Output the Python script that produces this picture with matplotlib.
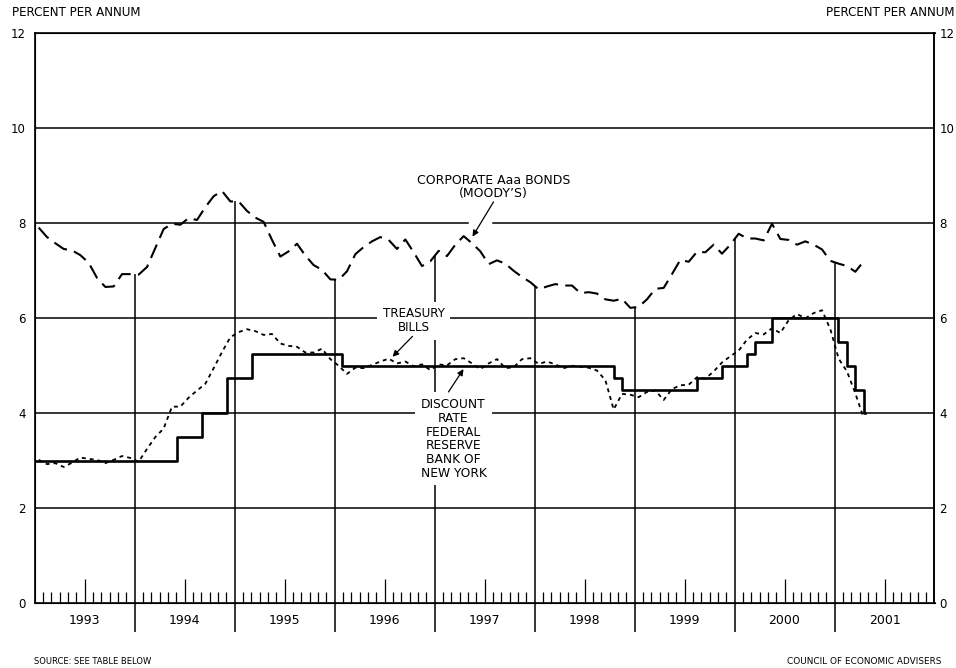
"""Interest rates 1993-2001: corporate Aaa bonds, treasury bills and
the discount rate of the Federal Reserve Bank of New York.
"""

import numpy as np
import matplotlib

matplotlib.use("Agg")
import matplotlib.pyplot as plt

# monthly values, Jan 1993 .. Apr 2001 (plotted at mid-month)
bond_rate = [
    7.91, 7.71, 7.58, 7.46, 7.43, 7.33, 7.17, 6.85, 6.66, 6.67, 6.93, 6.93,
    6.92, 7.08, 7.48, 7.88, 7.99, 7.97, 8.11, 8.07, 8.34, 8.57, 8.68, 8.46,
    8.46, 8.26, 8.12, 8.03, 7.65, 7.30, 7.41, 7.57, 7.32, 7.12, 7.02, 6.82,
    6.81, 6.99, 7.35, 7.50, 7.62, 7.71, 7.65, 7.46, 7.66, 7.39, 7.10, 7.20,
    7.42, 7.31, 7.55, 7.73, 7.58, 7.41, 7.14, 7.22, 7.15, 7.00, 6.87, 6.76,
    6.61, 6.67, 6.72, 6.69, 6.69, 6.53, 6.55, 6.52, 6.40, 6.37, 6.41, 6.22,
    6.24, 6.40, 6.62, 6.64, 6.93, 7.23, 7.19, 7.40, 7.39, 7.55, 7.36, 7.55,
    7.78, 7.68, 7.68, 7.64, 7.99, 7.67, 7.65, 7.55, 7.62, 7.55, 7.45, 7.21,
    7.15, 7.10, 6.98, 7.20,
]
bill_rate = [
    3.02, 2.93, 2.95, 2.87, 2.96, 3.07, 3.04, 3.02, 2.95, 3.02, 3.10, 3.06,
    2.98, 3.25, 3.50, 3.68, 4.14, 4.14, 4.33, 4.48, 4.62, 4.95, 5.29, 5.60,
    5.71, 5.77, 5.73, 5.65, 5.67, 5.47, 5.42, 5.40, 5.28, 5.28, 5.36, 5.14,
    5.00, 4.83, 4.96, 4.95, 5.02, 5.09, 5.15, 5.05, 5.09, 4.99, 5.03, 4.91,
    5.03, 5.01, 5.14, 5.16, 5.05, 4.93, 5.05, 5.14, 4.95, 4.97, 5.14, 5.16,
    5.04, 5.09, 5.03, 4.95, 5.00, 4.98, 4.96, 4.90, 4.70, 4.08, 4.41, 4.39,
    4.34, 4.45, 4.48, 4.28, 4.51, 4.59, 4.60, 4.76, 4.73, 4.88, 5.07, 5.20,
    5.32, 5.55, 5.69, 5.66, 5.79, 5.69, 5.96, 6.09, 6.00, 6.11, 6.17, 5.77,
    5.15, 4.88, 4.42, 3.90,
]

# discount rate: date of each change (decimal year) and new level
disc_dates = [1993.0, 1994.42, 1994.67, 1994.92, 1995.17, 1996.075, 1998.794,
              1998.878, 1999.629, 1999.875, 2000.122, 2000.202, 2000.372,
              2001.03, 2001.12, 2001.2, 2001.29, 2001.30]
disc_rate = [3.0, 3.5, 4.0, 4.75, 5.25, 5.0, 4.75, 4.5, 4.75, 5.0, 5.25, 5.5,
             6.0, 5.5, 5.0, 4.5, 4.0, 4.0]

years = list(range(1993, 2002))
FONT = "DejaVu Sans"


def main():
    plt.rcParams["font.family"] = FONT
    fig = plt.figure(figsize=(9.56, 6.68), dpi=100)
    ax = fig.add_axes([34.5 / 956, 1 - 603.3 / 668, 900 / 956, 570 / 668])

    x = 1993 + (np.arange(len(bond_rate)) + 0.5) / 12

    # grid lines (gap at 8 for the bonds arrow)
    for level in [2, 4, 6, 10]:
        ax.axhline(level, color="black", lw=1.1, zorder=1)
    ax.axhline(8, xmin=0, xmax=0.482, color="black", lw=1.1, zorder=1)
    ax.axhline(8, xmin=0.509, xmax=1, color="black", lw=1.1, zorder=1)

    # year separators, up to the bond line and below the axis
    bounds = np.array(years[1:])
    ax.vlines(bounds, 0, np.interp(bounds, x, bond_rate), color="black",
              lw=1.1, zorder=1)
    ax.vlines(bounds, -0.6, 0, color="black", lw=1.1, clip_on=False)

    ax.plot(x, bond_rate, color="black", lw=1.5, dashes=(7, 3.5), zorder=3)
    ax.plot(x, bill_rate, color="black", lw=1.3, dashes=(2.2, 2.2), zorder=3)
    ax.step(disc_dates, disc_rate, where="post", color="black", lw=1.9,
            zorder=3)

    box = dict(facecolor="white", edgecolor="none", pad=4)
    arrow = dict(arrowstyle="-|>", color="black", lw=0.9,
                 mutation_scale=9, shrinkA=0, shrinkB=0)
    ax.text(1997.59, 8.76, "CORPORATE Aaa BONDS\n(MOODY\u2019S)", ha="center",
            va="center", fontsize=9, linespacing=1.05, zorder=4)
    ax.annotate("", xy=(1997.38, 7.72), xytext=(1997.59, 8.45),
                arrowprops=arrow, zorder=4)
    ax.text(1996.79, 5.95, "TREASURY\nBILLS", ha="center", va="center",
            fontsize=8.6, linespacing=1.05, bbox=box, zorder=4)
    ax.annotate("", xy=(1996.58, 5.19), xytext=(1996.78, 5.62),
                arrowprops=arrow, zorder=4)
    ax.text(1997.19, 3.46,
            "DISCOUNT\nRATE\nFEDERAL\nRESERVE\nBANK OF\nNEW YORK",
            ha="center", va="center", fontsize=8.8, linespacing=1.08,
            bbox=box, zorder=4)
    ax.annotate("", xy=(1997.29, 4.93), xytext=(1997.14, 4.45),
                arrowprops=arrow, zorder=4)

    ax.set_xlim(1993, 2002)
    ax.set_ylim(0, 12)
    for side in ax.spines.values():
        side.set_linewidth(1.2)

    ax.set_yticks(range(0, 13, 2))
    ax.tick_params(axis="y", length=0, labelsize=8.5, pad=6.5)

    # right-hand scale sits closer to the frame
    ax2 = ax.twinx()
    ax2.set_ylim(0, 12)
    ax2.set_yticks(range(0, 13, 2))
    ax2.tick_params(axis="y", length=0, labelsize=8.5, pad=3.5)
    ax2.spines["right"].set_linewidth(1.2)

    months = [y + m / 12 for y in years for m in range(1, 12) if m != 6]
    ax.set_xticks([y + 0.5 for y in years])
    ax.set_xticklabels([str(y) for y in years])
    ax.set_xticks(months, minor=True)
    ax.tick_params(axis="x", which="major", direction="in", length=17,
                   width=0.9, labelsize=9, pad=8)
    ax.tick_params(axis="x", which="minor", direction="in", length=8,
                   width=0.9)

    fig.text(12 / 956, 1 - 13 / 668, "PERCENT PER ANNUM", ha="left",
             va="center", fontsize=8.6)
    fig.text(955 / 956, 1 - 13 / 668, "PERCENT PER ANNUM", ha="right",
             va="center", fontsize=8.6)
    fig.text(34 / 956, 1 - 661 / 668, "SOURCE: SEE TABLE BELOW", ha="left",
             va="center", fontsize=6.0)
    fig.text(941 / 956, 1 - 661 / 668, "COUNCIL OF ECONOMIC ADVISERS",
             ha="right", va="center", fontsize=6.4)

    fig.savefig("out.png", dpi=100, facecolor="white")


if __name__ == "__main__":
    main()
